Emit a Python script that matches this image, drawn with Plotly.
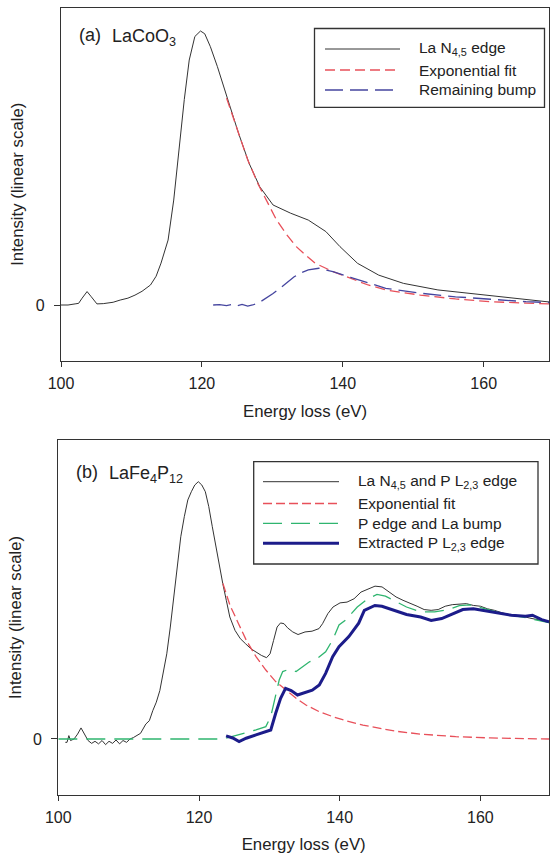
import plotly.graph_objects as go

# ---------------- data: panel (a) LaCoO3 ----------------
a_edge_x = [100, 101, 102, 102.5, 103, 103.7, 104.3, 105.1, 106, 107.4,
            108.4, 109.5, 110.5, 111.5, 112.7, 113.5, 114.2, 115.2, 116, 116.7,
            117.5, 118.2, 119, 119.8, 120.4, 121.2, 122.2, 123.7, 125.2, 126.7,
            128.2, 130.1, 132.6, 135.1, 137.6, 139.6, 142.1, 145.1, 148.6, 153.5,
            160, 166, 169.3]
a_edge_y = [0, 0, 0.004, 0.006, 0.025, 0.049, 0.03, 0.004, 0.005, 0.01,
            0.018, 0.025, 0.036, 0.05, 0.073, 0.105, 0.153, 0.237, 0.383, 0.566,
            0.75, 0.894, 0.98, 1.0, 0.99, 0.943, 0.87, 0.748, 0.627, 0.517,
            0.432, 0.365, 0.335, 0.31, 0.268, 0.213, 0.152, 0.109, 0.079, 0.055,
            0.036, 0.021, 0.011]

a_fit_x = [123.5, 125, 126.5, 128, 129.1, 130.6, 132, 133.4, 134.8, 136.1,
           138.6, 141.1, 143.6, 146.1, 151, 156, 161, 166, 169.3]
a_fit_y = [0.755, 0.64, 0.53, 0.44, 0.383, 0.31, 0.258, 0.213, 0.18, 0.152,
           0.122, 0.097, 0.073, 0.055, 0.036, 0.022, 0.012, 0.007, 0.004]

a_bump_x = [121.6, 122.5, 123.5, 124.3, 125, 125.7, 126.5, 127.2, 128.2, 129.1,
            130.1, 131.1, 132.1, 133.1, 134.1, 135.1, 136.6, 138.6, 141.1, 143.6,
            146.1, 151, 156, 161, 166, 169.3]
a_bump_y = [0, 0.001, -0.002, 0.002, -0.003, 0.002, -0.004, 0.0, 0.01, 0.024,
            0.042, 0.061, 0.082, 0.103, 0.118, 0.128, 0.134, 0.122, 0.101, 0.08,
            0.061, 0.043, 0.03, 0.021, 0.012, 0.009]

# ---------------- data: panel (b) LaFe4P12 ----------------
b_edge_x = [101.0, 101.24, 101.5, 101.74, 102.24, 102.74, 103.23, 103.73, 104.23, 104.73,
            105.22, 105.72, 106.22, 106.72, 107.21, 107.71, 108.21, 108.71, 109.2, 109.7,
            110.2, 110.7, 111.19, 111.69, 112.44, 112.94, 113.43, 113.93, 114.43, 114.93,
            115.42, 115.92, 116.42, 116.92, 117.41, 117.91, 118.41, 118.91, 119.4, 119.9,
            120.4, 120.9, 121.39, 121.89, 122.39, 122.89, 123.38, 123.88, 124.38, 125.12,
            125.87, 126.62, 127.36, 128.11, 128.86, 129.6, 130.1, 130.6, 131.1, 131.59,
            132.09, 132.59, 133.33, 134.08, 135.07, 136.07, 137.06, 137.56, 138.31, 139.05,
            140.05, 141.04, 142.04, 143.03, 144.03, 145.02, 146.02, 147.01, 148.01, 149.0,
            150.0, 151.0, 152.0, 153.0, 154.0, 155.0, 156.0, 157.0, 158.0, 159.0,
            160.0, 161.0, 162.0, 163.0, 164.0, 165.0, 166.0, 167.0, 168.0, 169.0,
            169.75]
b_edge_y = [-0.013, -0.013, 0.013, -0.006, 0.0, 0.019, 0.043, 0.019, -0.006, -0.017,
            -0.009, -0.019, -0.006, -0.022, -0.009, -0.017, -0.004, -0.019, -0.006, -0.013,
            0.0, 0.006, 0.013, 0.022, 0.058, 0.071, 0.11, 0.143, 0.188, 0.253,
            0.331, 0.435, 0.552, 0.669, 0.786, 0.864, 0.929, 0.961, 0.987, 1.0,
            0.987, 0.961, 0.903, 0.825, 0.747, 0.669, 0.604, 0.539, 0.474, 0.422,
            0.39, 0.37, 0.351, 0.338, 0.325, 0.316, 0.331, 0.383, 0.435, 0.451,
            0.448, 0.432, 0.416, 0.406, 0.416, 0.419, 0.429, 0.448, 0.487, 0.513,
            0.529, 0.532, 0.545, 0.571, 0.584, 0.594, 0.591, 0.571, 0.552, 0.539,
            0.529, 0.516, 0.503, 0.5, 0.503, 0.516, 0.522, 0.523, 0.526, 0.519,
            0.516, 0.506, 0.5, 0.491, 0.484, 0.481, 0.477, 0.47, 0.464, 0.457,
            0.455]

b_fit_x = [123.4, 124.4, 125.5, 126.7, 128.1, 129.5, 130.9, 132.3, 133.8, 135.2,
           137.1, 139.0, 140.9, 143.3, 145.6, 148.0, 151.5, 156.5, 161.4, 165.5,
           169.75]
b_fit_y = [0.604, 0.52, 0.455, 0.385, 0.32, 0.268, 0.223, 0.19, 0.158, 0.132,
           0.106, 0.087, 0.071, 0.054, 0.042, 0.03, 0.019, 0.009, 0.004, 0.002,
           0.0]

b_pbump_x = [100.0, 110.0, 120.0, 123.4, 128.1, 129.5, 130.2, 130.9, 131.4, 131.9,
             132.8, 133.8, 134.7, 135.7, 136.6, 138.0, 139.0, 139.9, 140.8, 142.5,
             144.0, 145.3, 146.5, 148.0, 149.5, 151.5, 153.5, 155.5, 157.0, 158.5,
             160.4, 162.0, 164.0, 166.0, 168.0, 169.75]
b_pbump_y = [0.0, 0.0, 0.0, 0.0, 0.035, 0.048, 0.087, 0.164, 0.229, 0.262,
             0.271, 0.262, 0.281, 0.3, 0.309, 0.339, 0.385, 0.443, 0.461, 0.513,
             0.545, 0.562, 0.555, 0.533, 0.513, 0.494, 0.494, 0.503, 0.518, 0.521,
             0.508, 0.497, 0.482, 0.474, 0.461, 0.452]

b_pl23_x = [123.85, 124.8, 125.7, 126.7, 128.1, 129.5, 130.2, 130.9, 131.6, 132.3,
            133.1, 134.0, 134.9, 136.1, 137.1, 138.0, 139.0, 139.9, 141.3, 142.7,
            143.5, 145.0, 146.0, 147.5, 149.5, 151.5, 153.0, 154.5, 156.0, 157.5,
            159.0, 160.4, 162.4, 164.4, 166.4, 167.4, 168.7, 169.75]
b_pl23_y = [0.012, 0.004, -0.01, 0.003, 0.016, 0.028, 0.035, 0.1, 0.158, 0.197,
            0.188, 0.171, 0.18, 0.19, 0.21, 0.255, 0.32, 0.359, 0.398, 0.45,
            0.5, 0.519, 0.516, 0.503, 0.484, 0.474, 0.461, 0.468, 0.487, 0.503,
            0.506, 0.5, 0.49, 0.481, 0.477, 0.481, 0.464, 0.455]

x_ticks = [100, 120, 140, 160]
x_tick_text = ["100", "120", "140", "160"]
y_ticks = [0]
y_tick_text = ["0"]

a_names = ["La N<sub>4,5</sub> edge", "Exponential fit", "Remaining bump"]
b_names = ["La N<sub>4,5</sub> and P L<sub>2,3</sub> edge", "Exponential fit",
           "P edge and La bump", "Extracted P L<sub>2,3</sub> edge"]

# ---------------- styling ----------------
W, H = 551, 857
FONT = "Liberation Sans, Arial, sans-serif"
TXT = "#222222"
AX = "#333333"
C_BLACK = "#333333"
C_RED = "#e8505a"
C_BLUE = "#45459f"
C_GREEN = "#2fb56f"
C_NAVY = "#1c1c8a"

def PX(x):
    return x / W

def PY(y):
    return 1 - y / H

fig = go.Figure()

styles_a = [
    dict(color=C_BLACK, width=1, dash="solid"),
    dict(color=C_RED, width=1.3, dash="10px,5px"),
    dict(color=C_BLUE, width=1.3, dash="18px,7px"),
]
styles_b = [
    dict(color=C_BLACK, width=1, dash="solid"),
    dict(color=C_RED, width=1.3, dash="9px,4px"),
    dict(color=C_GREEN, width=1.3, dash="19px,9px"),
    dict(color=C_NAVY, width=3, dash="solid"),
]

for (xs, ys), nm, st in zip([(a_edge_x, a_edge_y), (a_fit_x, a_fit_y), (a_bump_x, a_bump_y)],
                            a_names, styles_a):
    fig.add_trace(go.Scatter(x=xs, y=ys, mode="lines", name=nm, line=st,
                             xaxis="x", yaxis="y", showlegend=False))

order_b = [(b_edge_x, b_edge_y), (b_fit_x, b_fit_y), (b_pbump_x, b_pbump_y), (b_pl23_x, b_pl23_y)]
for (xs, ys), nm, st in zip(order_b, b_names, styles_b):
    fig.add_trace(go.Scatter(x=xs, y=ys, mode="lines", name=nm, line=st,
                             xaxis="x2", yaxis="y2", showlegend=False))

axis_common = dict(
    showline=True, linecolor=AX, linewidth=1.3, mirror=True,
    ticks="outside", ticklen=5, tickwidth=1.2, tickcolor=AX,
    showgrid=False, zeroline=False, automargin=False,
    tickfont=dict(family=FONT, size=16, color=TXT),
)
title_font = dict(family=FONT, size=16.8, color=TXT)

fig.update_layout(
    width=W, height=H,
    margin=dict(l=0, r=0, t=0, b=0),
    paper_bgcolor="white", plot_bgcolor="white",
    font=dict(family=FONT, color=TXT),
    showlegend=False,
    xaxis=dict(axis_common, domain=[PX(61), PX(549)], range=[100, 169.27], anchor="y",
               tickvals=x_ticks, ticktext=x_tick_text, ticklabelstandoff=3,
               title=dict(text="Energy loss (eV)", font=title_font, standoff=13)),
    yaxis=dict(axis_common, domain=[PY(361), PY(7.5)], range=[-0.2044, 1.0858], anchor="x",
               tickvals=y_ticks, ticktext=y_tick_text, ticklen=6, ticklabelstandoff=6,
               title=dict(text="Intensity (linear scale)", font=title_font, standoff=7)),
    xaxis2=dict(axis_common, domain=[PX(58.3), PX(549)], range=[100, 169.75], anchor="y2",
                tickvals=x_ticks, ticktext=x_tick_text, ticklabelstandoff=3,
                title=dict(text="Energy loss (eV)", font=title_font, standoff=12)),
    yaxis2=dict(axis_common, domain=[PY(795), PY(440)], range=[-0.2177, 1.162], anchor="x2",
                tickvals=y_ticks, ticktext=y_tick_text, ticklen=6, ticklabelstandoff=6,
                title=dict(text="Intensity (linear scale)", font=title_font, standoff=7)),
)

shapes = []
annotations = []

def legend_box(x0, y0, x1, y1, rows, names, styles, sx0, sx1, tx):
    shapes.append(dict(type="rect", xref="paper", yref="paper",
                       x0=PX(x0), x1=PX(x1), y0=PY(y1), y1=PY(y0),
                       line=dict(color=AX, width=1.3), fillcolor="white", layer="above"))
    for ry, nm, st in zip(rows, names, styles):
        shapes.append(dict(type="line", xref="paper", yref="paper",
                           x0=PX(sx0), x1=PX(sx1), y0=PY(ry), y1=PY(ry),
                           line=dict(color=st["color"], width=st["width"], dash=st["dash"]),
                           layer="above"))
        annotations.append(dict(xref="paper", yref="paper", x=PX(tx), y=PY(ry),
                                xanchor="left", yanchor="middle", showarrow=False,
                                text=nm, font=dict(family=FONT, size=15.5, color=TXT)))

legend_box(314.5, 28.5, 544.5, 107.3, [49, 70, 90], a_names, styles_a, 325, 400, 417)
legend_box(253.7, 461.7, 538, 564, [481.7, 503.5, 523.3, 543.3], b_names, styles_b, 263, 339, 356)

def label(x, y, text, size=18):
    annotations.append(dict(xref="paper", yref="paper", x=PX(x), y=PY(y),
                            xanchor="left", yanchor="middle", showarrow=False,
                            text=text, font=dict(family=FONT, size=size, color=TXT)))

label(76.5, 35, "(a)")
label(110, 37, "LaCoO<sub>3</sub>")
label(73.5, 471.7, "(b)")
label(107, 474, "LaFe<sub>4</sub>P<sub>12</sub>")

fig.update_layout(shapes=shapes, annotations=annotations)
fig.write_html(
    "out.html",
    config={"displayModeBar": False},
    post_script="document.body.style.margin='0px';document.body.style.overflow='hidden';",
)
